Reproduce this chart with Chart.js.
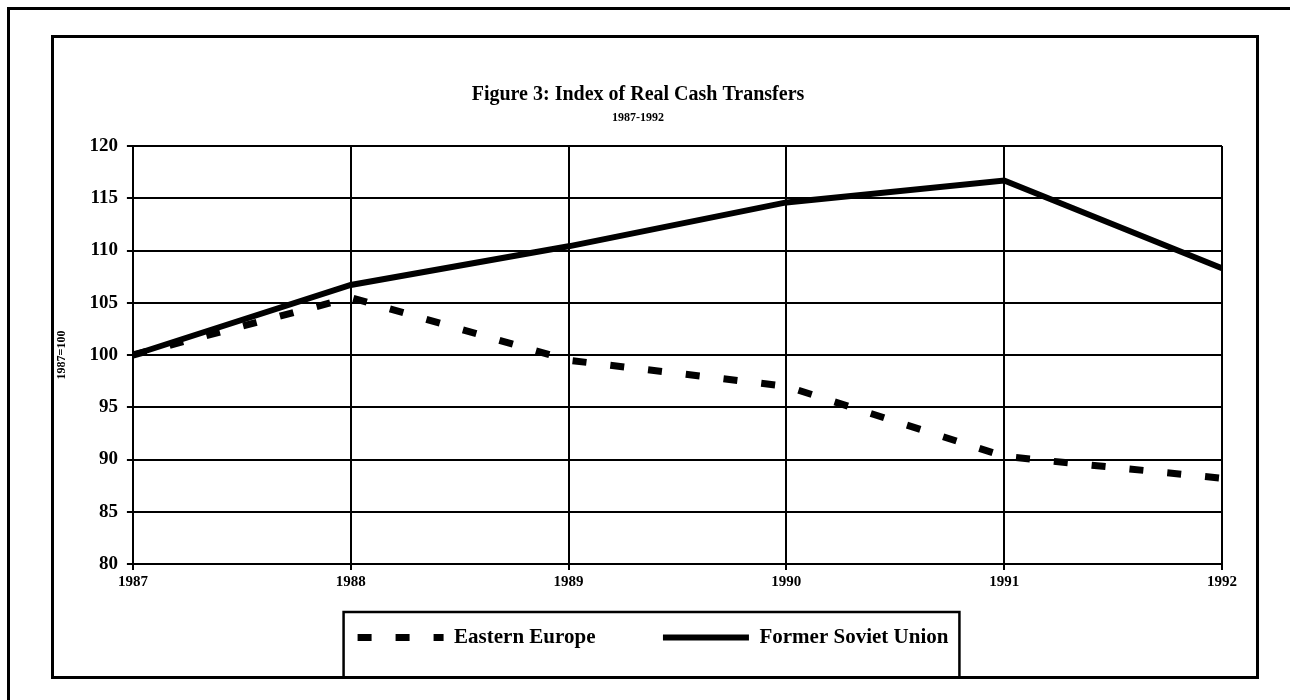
<!DOCTYPE html>
<html>
<head>
<meta charset="utf-8">
<title>Figure 3: Index of Real Cash Transfers</title>
<script src="https://cdn.jsdelivr.net/npm/chart.js@4.4.0/dist/chart.umd.min.js"></script>
<style>
    body { margin: 0; background: #fff; }
    #moldura {
        position: absolute; left: 7px; top: 7px; width: 1300px; height: 720px;
        border-top: 3px solid #000; border-left: 3px solid #000;
    }
    #caixa {
        position: absolute; left: 51px; top: 35px; width: 1202px; height: 638px;
        border: 3px solid #000;
    }
    #graficoTransferencias { display: block; }
</style>
</head>
<body>
<div id="moldura"></div>
<div id="caixa">
    <canvas id="graficoTransferencias" width="1202" height="638"></canvas>
</div>
<script>
// dados (1987 = 100)
const anos = ['1987', '1988', '1989', '1990', '1991', '1992'];
const europaOriental = [100, 105.5, 99.5, 97.0, 90.3, 88.2];
const exUniaoSovietica = [100, 106.7, 110.4, 114.6, 116.7, 108.3];
const eixoY = { min: 80, max: 120, passo: 5 };

const fonte = 'Liberation Serif, Times New Roman, serif';
const deslocLegenda = 15; // a legenda do original fica um pouco à direita do centro

// empurra a legenda para a direita e desenha a caixa em volta dela
const caixaLegenda = {
    id: 'caixaLegenda',
    afterLayout: function (chart) {
        var legenda = chart.legend;
        if (!legenda) return;
        legenda.left += deslocLegenda;
        legenda.right += deslocLegenda;
        if (legenda.adjustHitBoxes) legenda.adjustHitBoxes();
    },
    afterDraw: function (chart) {
        var legenda = chart.legend;
        if (!legenda || !legenda.legendHitBoxes.length) return;
        var caixas = legenda.legendHitBoxes;
        var ultimo = caixas[caixas.length - 1];
        var ctx = chart.ctx;
        ctx.save();
        ctx.strokeStyle = '#000';
        ctx.lineWidth = 2.5;
        ctx.strokeRect(caixas[0].left - 14, legenda.top, (ultimo.left + ultimo.width) - caixas[0].left + 25, chart.height - legenda.top + 4);
        ctx.restore();
    }
};

var ctx = document.getElementById('graficoTransferencias').getContext('2d');
var grafico = new Chart(ctx, {
    type: 'line',
    data: {
        labels: anos,
        datasets: [
            {
                label: 'Eastern Europe',
                data: europaOriental,
                borderColor: '#000',
                backgroundColor: '#000',
                borderWidth: 7,
                borderDash: [14, 24],
                pointRadius: 0,
                tension: 0
            },
            {
                label: 'Former Soviet Union',
                data: exUniaoSovietica,
                borderColor: '#000',
                backgroundColor: '#000',
                borderWidth: 6,
                pointRadius: 0,
                tension: 0
            }
        ]
    },
    options: {
        responsive: false,
        animation: false,
        layout: { padding: { left: 0, right: 34, top: 0, bottom: 18 } },
        plugins: {
            title: {
                display: true,
                text: 'Figure 3: Index of Real Cash Transfers',
                color: '#000',
                font: { family: fonte, size: 20, weight: 'bold' },
                padding: { top: 45, bottom: 4 }
            },
            subtitle: {
                display: true,
                text: '1987-1992',
                color: '#000',
                font: { family: fonte, size: 12, weight: 'bold' },
                padding: { top: 0, bottom: 20.6 }
            },
            legend: {
                position: 'bottom',
                labels: {
                    color: '#000',
                    font: { family: fonte, size: 21, weight: 'bold' },
                    usePointStyle: true,
                    pointStyle: 'line',
                    pointStyleWidth: 86,
                    padding: 15,
                    // o tracejado da linha não vem por padrão com pointStyle
                    generateLabels: function (chart) {
                        return chart.data.datasets.map(function (ds, i) {
                            return {
                                text: ds.label + (i === 0 ? '\u2003\u2003\u2002' : ''),
                                fillStyle: '#000',
                                strokeStyle: '#000',
                                fontColor: '#000',
                                lineWidth: ds.borderWidth,
                                lineDash: ds.borderDash || [],
                                pointStyle: 'line',
                                hidden: false,
                                datasetIndex: i
                            };
                        });
                    }
                }
            },
            tooltip: { enabled: false }
        },
        scales: {
            x: {
                offset: false,
                grid: { color: '#000', lineWidth: 2, tickLength: 6 },
                border: { color: '#000', width: 2 },
                ticks: {
                    color: '#000',
                    font: { family: fonte, size: 15, weight: 'bold' },
                    padding: 3,
                    maxRotation: 0
                },
                afterFit: function (scale) {
                    scale.height += 18;
                }
            },
            y: {
                min: eixoY.min,
                max: eixoY.max,
                grid: { color: '#000', lineWidth: 2, tickLength: 6 },
                border: { color: '#000', width: 2 },
                ticks: {
                    stepSize: eixoY.passo,
                    color: '#000',
                    font: { family: fonte, size: 19, weight: 'bold' },
                    padding: 9
                },
                title: {
                    display: true,
                    text: '1987=100',
                    color: '#000',
                    font: { family: fonte, size: 12, weight: 'bold' },
                    padding: { top: 1, bottom: 11 }
                }
            }
        }
    },
    plugins: [caixaLegenda]
});
</script>
</body>
</html>
